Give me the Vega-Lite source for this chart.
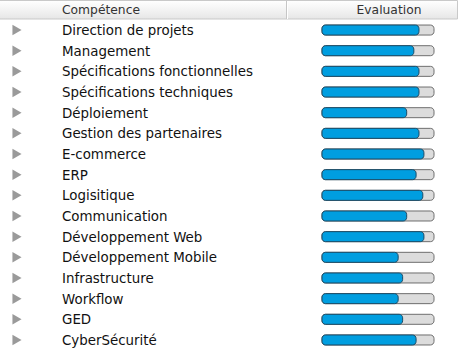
{
  "$schema": "https://vega.github.io/schema/vega-lite/v6.json",
  "width": 458,
  "height": 363,
  "padding": 0,
  "autosize": {"type": "none"},
  "background": "white",
  "config": {"view": {"stroke": null}, "font": "DejaVu Sans"},
  "data": {
    "values": [
      {"skill": "Direction de projets", "value": 0.866},
      {"skill": "Management", "value": 0.82},
      {"skill": "Spécifications fonctionnelles", "value": 0.866},
      {"skill": "Spécifications techniques", "value": 0.866},
      {"skill": "Déploiement", "value": 0.756},
      {"skill": "Gestion des partenaires", "value": 0.866},
      {"skill": "E-commerce", "value": 0.91},
      {"skill": "ERP", "value": 0.84},
      {"skill": "Logisitique", "value": 0.9},
      {"skill": "Communication", "value": 0.756},
      {"skill": "Développement Web", "value": 0.91},
      {"skill": "Développement Mobile", "value": 0.68},
      {"skill": "Infrastructure", "value": 0.72},
      {"skill": "Workflow", "value": 0.68},
      {"skill": "GED", "value": 0.72},
      {"skill": "CyberSécurité", "value": 0.84}
    ]
  },
  "encoding": {
    "y": {
      "field": "skill",
      "type": "nominal",
      "sort": null,
      "axis": null,
      "scale": {"range": [19.7, 350.3], "paddingInner": 0, "paddingOuter": 0}
    }
  },
  "layer": [
    {
      "data": {"values": [{"h": 1}]},
      "mark": {"type": "rect", "fill": {"gradient": "linear", "x1": 0, "y1": 0, "x2": 0, "y2": 1, "stops": [{"offset": 0, "color": "#ffffff"}, {"offset": 0.5, "color": "#f3f3f3"}, {"offset": 1, "color": "#e6e6e6"}]}, "stroke": "#c9c9c9", "strokeWidth": 1},
      "encoding": {"y": {"value": 0.5}, "y2": {"value": 19}, "x": {"value": -1}, "x2": {"value": 457.5}}
    },
    {
      "data": {"values": [{"h": 1}]},
      "mark": {"type": "rule", "stroke": "#c6c6c6", "strokeWidth": 1},
      "encoding": {"x": {"value": 286.5}, "y": {"value": 1}, "y2": {"value": 19}}
    },
    {
      "data": {"values": [{"h": 1}]},
      "mark": {"type": "rule", "stroke": "#ffffff", "strokeWidth": 1},
      "encoding": {"x": {"value": 287.5}, "y": {"value": 1}, "y2": {"value": 19}}
    },
    {
      "data": {"values": [{"head": "Compétence"}]},
      "mark": {"type": "text", "align": "left", "baseline": "middle", "fontSize": 12.3, "color": "#333333"},
      "encoding": {"text": {"field": "head"}, "x": {"value": 62}, "y": {"value": 10}}
    },
    {
      "data": {"values": [{"head": "Evaluation"}]},
      "mark": {"type": "text", "align": "center", "baseline": "middle", "fontSize": 12.3, "color": "#333333"},
      "encoding": {"text": {"field": "head"}, "x": {"value": 389}, "y": {"value": 10}}
    },
    {
      "mark": {"type": "point", "shape": "triangle-right", "filled": true, "color": "#9a9a9a", "size": 110, "opacity": 1},
      "encoding": {"x": {"value": 17}}
    },
    {
      "mark": {"type": "text", "align": "left", "baseline": "middle", "fontSize": 13.4, "color": "#111111", "dy": 1},
      "encoding": {"text": {"field": "skill"}, "x": {"value": 62}}
    },
    {
      "mark": {"type": "bar", "height": 10, "cornerRadius": 3.5, "fill": "#dcdcdc", "stroke": "#6e6e6e", "strokeWidth": 1},
      "encoding": {
        "x": {"datum": 1, "type": "quantitative", "scale": {"domain": [0, 1], "range": [322, 434]}, "axis": null},
        "x2": {"datum": 0}
      }
    },
    {
      "mark": {"type": "bar", "height": 10, "cornerRadius": 3.5, "fill": "#009ee0", "stroke": "#1b4b66", "strokeWidth": 1},
      "encoding": {
        "x": {"field": "value", "type": "quantitative", "axis": null},
        "x2": {"datum": 0}
      }
    }
  ]
}
